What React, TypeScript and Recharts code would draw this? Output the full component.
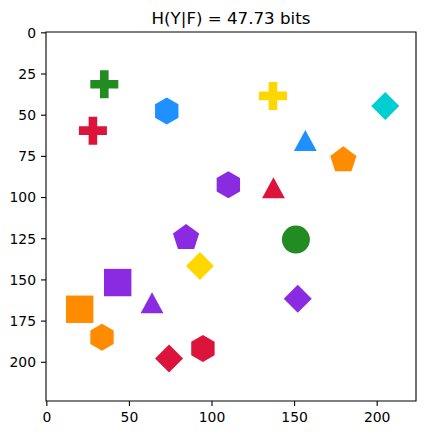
import React from 'react';
import { ScatterChart, Scatter, XAxis, YAxis, ReferenceArea } from 'recharts';

// Marker centres in image-pixel coordinates (x right, y down)
const markerX = [34.8, 27.9, 72.6, 136.9, 204.9, 156.5, 179.5, 109.9, 137.2, 84.3, 150.8, 92.7, 42.9, 19.9, 63.7, 151.9, 33.4, 74.0, 94.5];
const markerY = [31.2, 59.4, 47.4, 38.3, 44.4, 66.9, 77.3, 92.3, 95.6, 124.4, 125.5, 141.5, 151.6, 167.8, 165.3, 161.5, 184.8, 197.7, 191.7];
const markerShape = [
  'plus', 'plus', 'hexagon', 'plus', 'diamond', 'triangle', 'pentagon', 'hexagon', 'triangle',
  'pentagon', 'circle', 'diamond', 'square', 'square', 'triangle', 'diamond', 'hexagon', 'diamond', 'hexagon',
];
const markerColor = [
  '#228B22', '#DC143C', '#1E90FF', '#FFD700', '#00CED1', '#1E90FF', '#FF8C00', '#8A2BE2', '#DC143C',
  '#8A2BE2', '#228B22', '#FFD700', '#8A2BE2', '#FF8C00', '#8A2BE2', '#8A2BE2', '#FF8C00', '#DC143C', '#DC143C',
];

const xTicks = [0, 50, 100, 150, 200];
const yTicks = [0, 25, 50, 75, 100, 125, 150, 175, 200];
const imageExtent: [number, number] = [-0.5, 223.5];
const titleText = 'H(Y|F) = 47.73 bits';

const points = markerX.map((x, i) => ({ x, y: markerY[i], shape: markerShape[i], color: markerColor[i] }));

const FONT = 'DejaVu Sans, sans-serif';

function polygon(cx: number, cy: number, r: number, n: number, rot: number) {
  const pts: string[] = [];
  for (let k = 0; k < n; k++) {
    const a = rot + (2 * Math.PI * k) / n;
    pts.push(`${cx + r * Math.cos(a)},${cy + r * Math.sin(a)}`);
  }
  return pts.join(' ');
}

function Marker(props: any) {
  const { cx, cy, payload } = props;
  if (cx == null || cy == null) return null;
  const fill = payload.color;
  switch (payload.shape) {
    case 'plus': {
      const h = 14;
      const t = 4.3;
      const d = `M${cx - t},${cy - h} H${cx + t} V${cy - t} H${cx + h} V${cy + t} H${cx + t} V${cy + h} H${cx - t} V${cy + t} H${cx - h} V${cy - t} H${cx - t} Z`;
      return <path d={d} fill={fill} />;
    }
    case 'hexagon':
      return <polygon points={polygon(cx, cy, 13.5, 6, -Math.PI / 2)} fill={fill} />;
    case 'pentagon':
      return <polygon points={polygon(cx, cy, 13.8, 5, -Math.PI / 2)} fill={fill} />;
    case 'triangle':
      return <polygon points={`${cx},${cy - 13} ${cx + 11.4},${cy + 8} ${cx - 11.4},${cy + 8}`} fill={fill} />;
    case 'diamond':
      return <polygon points={`${cx},${cy - 14} ${cx + 14},${cy} ${cx},${cy + 14} ${cx - 14},${cy}`} fill={fill} />;
    case 'circle':
      return <circle cx={cx} cy={cy} r={14} fill={fill} />;
    case 'square':
      return <rect x={cx - 13.7} y={cy - 13.7} width={27.4} height={27.4} fill={fill} />;
    default:
      return null;
  }
}

export default function App() {
  const tickStyle = { fontSize: 13.9, fill: '#000', fontFamily: FONT };
  return (
    <div style={{ position: 'absolute', left: 0, top: 0, width: 425, height: 435, background: '#fff' }}>
      <svg width={425} height={30} style={{ position: 'absolute', left: 0, top: 0 }}>
        <text x={231} y={24} textAnchor="middle" fontSize={16.67} fontFamily={FONT} fill="#000">
          {titleText}
        </text>
      </svg>
      <ScatterChart width={425} height={435} margin={{ top: 32, right: 9, bottom: 0, left: 0 }}>
        <XAxis
          type="number"
          dataKey="x"
          domain={imageExtent}
          ticks={xTicks}
          allowDataOverflow
          height={34}
          axisLine={false}
          tickLine={{ stroke: '#000', strokeWidth: 1.1 }}
          tickSize={5}
          tickMargin={6}
          tick={tickStyle}
          interval={0}
        />
        <YAxis
          type="number"
          dataKey="y"
          domain={imageExtent}
          ticks={yTicks}
          reversed
          allowDataOverflow
          width={46}
          axisLine={false}
          tickLine={{ stroke: '#000', strokeWidth: 1.1 }}
          tickSize={5}
          tickMargin={5}
          tick={tickStyle}
          interval={0}
        />
        <Scatter data={points} shape={(p: any) => <Marker {...p} />} isAnimationActive={false} />
        <ReferenceArea
          x1={imageExtent[0]}
          x2={imageExtent[1]}
          y1={imageExtent[0]}
          y2={imageExtent[1]}
          fill="none"
          fillOpacity={0}
          stroke="#000"
          strokeWidth={1.1}
        />
      </ScatterChart>
    </div>
  );
}
